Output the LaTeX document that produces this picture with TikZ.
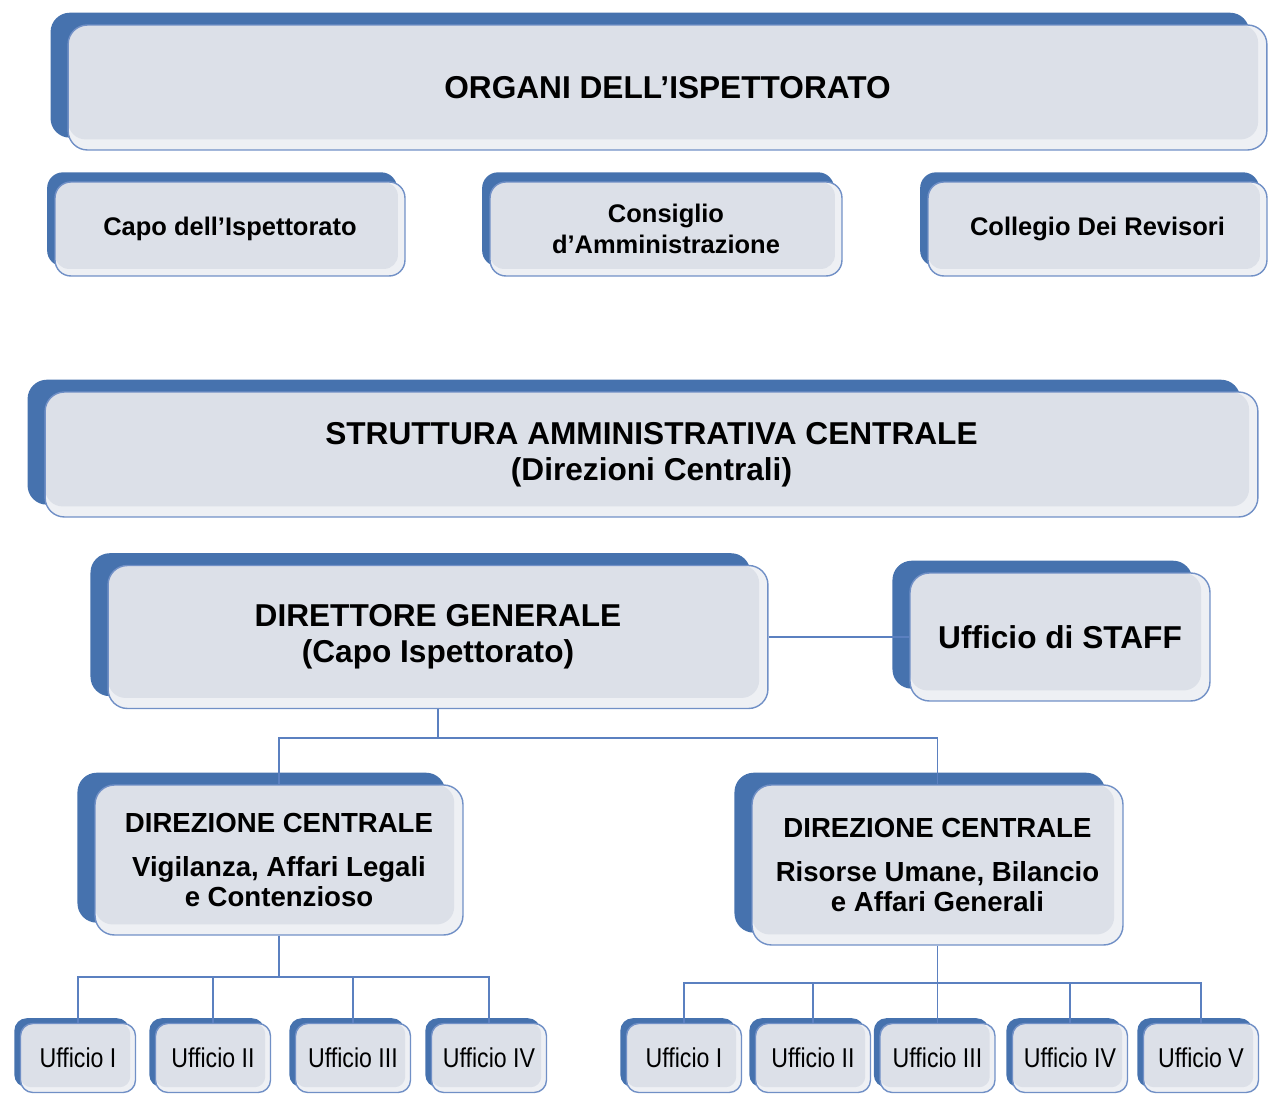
\documentclass[tikz,border=0pt]{standalone}
\usepackage{fontspec}
\setmainfont{Liberation Sans}
\newfontfamily\narrowfont[FakeStretch=0.85]{Liberation Sans}
\usetikzlibrary{shadows}
\definecolor{backblue}{HTML}{4672AE}
\definecolor{boxface}{HTML}{DCE0E8}
\definecolor{boxrim}{HTML}{EEF0F4}
\definecolor{boxline}{HTML}{7190C6}
\definecolor{linkblue}{HTML}{5B80C0}
\begin{document}
\begin{tikzpicture}[x=0.02cm, y=-0.02cm, inner sep=0pt, align=center,
  bigbox/.style={draw=boxline, line width=0.8pt, fill=boxrim, rounded corners=11pt,
    general shadow={fill=backblue, shadow xshift=-10pt, shadow yshift=7pt},
    path picture={\fill[boxface, rounded corners=10pt] (path picture bounding box.north west)
      rectangle ([xshift=-5pt,yshift=6pt]path picture bounding box.south east);},
    font=\bfseries\fontsize{18}{20.5}\selectfont},
  smallbox/.style={draw=boxline, line width=0.8pt, fill=boxrim, rounded corners=9pt,
    general shadow={fill=backblue, shadow xshift=-4.5pt, shadow yshift=5.5pt},
    path picture={\fill[boxface, rounded corners=8pt] (path picture bounding box.north west)
      rectangle ([xshift=-4pt,yshift=4pt]path picture bounding box.south east);},
    minimum height=1.88cm, font=\bfseries\fontsize{14.5}{17.5}\selectfont},
  dirbox/.style={bigbox, font=\bfseries\fontsize{15.7}{17}\selectfont},
  ufbox/.style={draw=boxline, line width=0.8pt, fill=boxrim, rounded corners=7pt,
    general shadow={fill=backblue, shadow xshift=-3.5pt, shadow yshift=3pt},
    path picture={\fill[boxface, rounded corners=6pt] (path picture bounding box.north west)
      rectangle ([xshift=-3pt,yshift=3pt]path picture bounding box.south east);},
    minimum width=2.3cm, minimum height=1.38cm, font=\narrowfont\fontsize{15.5}{18}\selectfont}]

\useasboundingbox (0,0) rectangle (1269,1097);

\node[bigbox, minimum width=23.98cm, minimum height=2.5cm] (organi) at (667.5,87.5) {ORGANI DELL'ISPETTORATO};

\node[smallbox, minimum width=7cm] (capo) at (230,229) {Capo dell'Ispettorato};
\node[smallbox, minimum width=7.04cm] (consiglio) at (666,229) {Consiglio\\d'Amministrazione};
\node[smallbox, minimum width=6.78cm] (collegio) at (1097.5,229) {Collegio Dei Revisori};

\node[bigbox, minimum width=24.26cm, minimum height=2.5cm] (struttura) at (651.5,454.5) {STRUTTURA AMMINISTRATIVA CENTRALE\\(Direzioni Centrali)};

\node[bigbox, minimum width=13.2cm, minimum height=2.86cm] (dir) at (438,637) {DIRETTORE GENERALE\\(Capo Ispettorato)};
\node[bigbox, minimum width=6cm, minimum height=2.56cm] (staff) at (1060,637) {Ufficio di STAFF};

\node[dirbox, minimum width=7.36cm, minimum height=3cm] (vig) at (279,860) {DIREZIONE CENTRALE\\[8pt]Vigilanza, Affari Legali\\e Contenzioso};
\node[dirbox, minimum width=7.42cm, minimum height=3.2cm] (ris) at (937.5,865) {DIREZIONE CENTRALE\\[8pt]Risorse Umane, Bilancio\\e Affari Generali};

\node[ufbox] (va) at (78,1058) {Ufficio I};
\node[ufbox] (vb) at (213,1058) {Ufficio II};
\node[ufbox] (vc) at (353,1058) {Ufficio III};
\node[ufbox] (vd) at (489,1058) {Ufficio IV};

\node[ufbox] (ra) at (684,1058) {Ufficio I};
\node[ufbox] (rb) at (813,1058) {Ufficio II};
\node[ufbox] (rc) at (937.5,1058) {Ufficio III};
\node[ufbox] (rd) at (1070,1058) {Ufficio IV};
\node[ufbox] (re) at (1201,1058) {Ufficio V};

\coordinate (j1) at (438,738);
\coordinate (j2) at (279,977);
\coordinate (j3) at (937.5,983);

\begin{scope}[linkblue, line width=0.9pt]
\draw (dir.east)--(staff.west);
\draw (dir.south)--(j1);
\draw (vig.north) |- (j1) -| (ris.north);
\draw (vig.south)--(j2);
\draw (va.north) |- (j2) -| (vd.north);
\draw (j2) -| (vb.north);
\draw (j2) -| (vc.north);
\draw (ris.south)--(j3);
\draw (ra.north) |- (j3) -| (re.north);
\draw (j3) -| (rb.north);
\draw (j3)--(rc.north);
\draw (j3) -| (rd.north);
\end{scope}
\end{tikzpicture}
\end{document}
